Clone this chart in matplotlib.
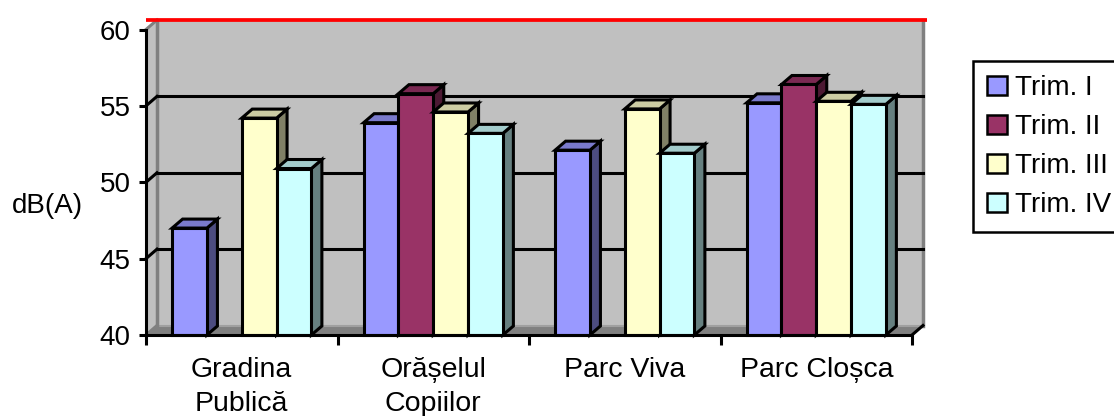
import matplotlib
matplotlib.use('Agg')
import matplotlib.pyplot as plt
from matplotlib.patches import Polygon, Patch

# ---------------- data ----------------
categories = ["Gradina\nPublică", "Orășelul\nCopiilor", "Parc Viva", "Parc Cloșca"]
series_names = ["Trim. I", "Trim. II", "Trim. III", "Trim. IV"]
trim1 = [47.0, 53.9, 52.1, 55.2]
trim2 = [None, 55.8, None, 56.4]
trim3 = [54.2, 54.6, 54.8, 55.3]
trim4 = [50.9, 53.2, 51.9, 55.1]
y_ticks = [40, 45, 50, 55, 60]
limit_value = 60
y_label = "dB(A)"

series = [trim1, trim2, trim3, trim4]
front_colors = ['#9999FF', '#993366', '#FFFFCC', '#CCFFFF']
top_colors = ['#7A7ACC', '#7A2952', '#CCCCA3', '#A3CCCC']
side_colors = ['#4C4C80', '#4C1933', '#808066', '#668080']

plt.rcParams['font.family'] = ['Liberation Sans', 'DejaVu Sans']

W, H = 1114, 416
fig = plt.figure(figsize=(W / 100, H / 100), dpi=100)
left_px, right_px, bottom_px, top_px = 146, 912, 335, 29.5
ax = fig.add_axes([left_px / W, (H - bottom_px) / H,
                   (right_px - left_px) / W, (bottom_px - top_px) / H])
n = len(categories)
ymin, ymax = y_ticks[0], y_ticks[-1]
ax.set_xlim(0, n)
ax.set_ylim(ymin, ymax)
ax.patch.set_visible(False)

# pixel -> data conversion for the 3D depth
px_x = n / (right_px - left_px)
px_y = (ymax - ymin) / (bottom_px - top_px)
DX, DY = 11 * px_x, 9.5 * px_y      # wall depth
BDX, BDY = 10.5 * px_x, 9 * px_y    # bar depth

wall_gray = '#C0C0C0'
dark_gray = '#808080'
LW = 2.2

# back wall
ax.add_patch(Polygon([(DX, ymin + DY), (n + DX, ymin + DY), (n + DX, ymax + DY), (DX, ymax + DY)],
                     closed=True, facecolor=wall_gray, edgecolor='none', zorder=0, clip_on=False))
# left wall
ax.add_patch(Polygon([(0, ymin), (DX, ymin + DY), (DX, ymax + DY), (0, ymax)],
                     closed=True, facecolor=wall_gray, edgecolor='none', zorder=0, clip_on=False))
# floor
ax.add_patch(Polygon([(0, ymin), (n, ymin), (n + DX, ymin + DY), (DX, ymin + DY)],
                     closed=True, facecolor=dark_gray, edgecolor='none', zorder=0.5, clip_on=False))
ax.plot([DX, n + DX], [ymin + DY, ymin + DY], color='#A0A0A0', lw=1.5, zorder=0.6, clip_on=False)
# wall edges
ax.plot([DX, DX], [ymin + DY, ymax + DY], color=dark_gray, lw=2.5, zorder=0.7, clip_on=False)
ax.plot([n + DX, n + DX], [ymin + DY, ymax + DY], color=dark_gray, lw=2.5, zorder=0.7, clip_on=False)

# gridlines on back wall + diagonals on left wall
for v in y_ticks:
    if ymin < v < ymax:
        ax.plot([DX, n + DX], [v + DY, v + DY], color='black', lw=LW, zorder=1, clip_on=False)
    c = dark_gray if v in (ymin, ymax) else 'black'
    ax.plot([0, DX], [v, v + DY], color=c, lw=LW, zorder=1, clip_on=False)
ax.plot([n, n + DX], [ymin, ymin + DY], color='black', lw=LW, zorder=1, clip_on=False)

# limit line
ax.plot([0, n + DX + 4 * px_x], [limit_value + DY, limit_value + DY], color='#FF0000',
        lw=2.7, zorder=1.2, clip_on=False, solid_capstyle='butt')

# bars
bw = 1 / 5.5
z = 2
for g in range(n):
    for s, vals in enumerate(series):
        v = vals[g]
        if v is None:
            continue
        x0 = g + (0.75 + s) * bw
        x1 = x0 + bw
        ax.add_patch(Polygon([(x1, ymin), (x1 + BDX, ymin + BDY), (x1 + BDX, v + BDY), (x1, v)],
                             closed=True, facecolor=side_colors[s], edgecolor='black', lw=LW,
                             joinstyle='miter', zorder=z, clip_on=False))
        ax.add_patch(Polygon([(x0, v), (x1, v), (x1 + BDX, v + BDY), (x0 + BDX, v + BDY)],
                             closed=True, facecolor=top_colors[s], edgecolor='black', lw=LW,
                             joinstyle='miter', zorder=z, clip_on=False))
        ax.bar(x0, v - ymin, bottom=ymin, width=bw, align='edge', color=front_colors[s],
               edgecolor='black', linewidth=LW, zorder=z + 0.1, clip_on=False)
        z += 0.2

# spines / ticks
for sp in ('top', 'right'):
    ax.spines[sp].set_visible(False)
for sp in ('left', 'bottom'):
    ax.spines[sp].set_linewidth(LW)
    ax.spines[sp].set_zorder(50)
ax.set_yticks(y_ticks)
ax.set_yticklabels([str(t) for t in y_ticks], fontsize=20)
ax.tick_params(axis='y', direction='out', length=5, width=LW, pad=6)

ax.set_xticks(range(n + 1))
ax.set_xticklabels([''] * (n + 1))
ax.tick_params(axis='x', which='major', direction='out', length=7, width=LW)
ax.set_xticks([g + 0.5 for g in range(n)], minor=True)
ax.set_xticklabels(categories, minor=True, fontsize=20.5, linespacing=1.4)
ax.tick_params(axis='x', which='minor', length=0, pad=16)

fig.text(47 / W, 1 - 206 / H, y_label, fontsize=20, ha='center', va='center')

handles = [Patch(facecolor=front_colors[i], edgecolor='black', linewidth=1.8, label=series_names[i])
           for i in range(len(series_names))]
leg = fig.legend(handles=handles, loc='upper left', bbox_to_anchor=(973 / W, 1 - 61 / H),
                 frameon=True, fancybox=False, edgecolor='black', framealpha=1,
                 fontsize=20, handlelength=0.72, handleheight=0.66, handletextpad=0.3,
                 labelspacing=0.47, borderpad=0.5, borderaxespad=0)
leg.get_frame().set_linewidth(1.8)

fig.savefig('out.png', dpi=100)
